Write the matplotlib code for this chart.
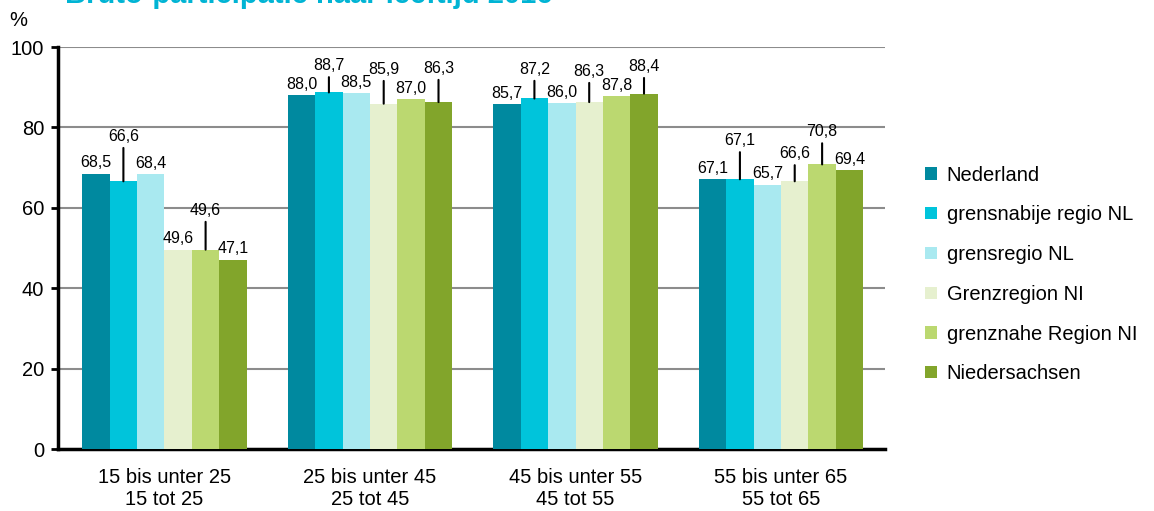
import matplotlib
matplotlib.use("Agg")
import matplotlib.pyplot as plt
import numpy as np

plt.rcParams["font.family"] = ["Liberation Sans", "DejaVu Sans"]

categories = ["15 bis unter 25\n15 tot 25", "25 bis unter 45\n25 tot 45",
              "45 bis unter 55\n45 tot 55", "55 bis unter 65\n55 tot 65"]
series = ["Nederland", "grensnabije regio NL", "grensregio NL",
          "Grenzregion NI", "grenznahe Region NI", "Niedersachsen"]
nederland = [68.5, 88.0, 85.7, 67.1]
grensnabije = [66.6, 88.7, 87.2, 67.1]
grensregio = [68.4, 88.5, 86.0, 65.7]
grenzregion_ni = [49.6, 85.9, 86.3, 66.6]
grenznahe_ni = [49.6, 87.0, 87.8, 70.8]
niedersachsen = [47.1, 86.3, 88.4, 69.4]
values = [nederland, grensnabije, grensregio, grenzregion_ni, grenznahe_ni, niedersachsen]

colors = ["#00899F", "#00C4DB", "#A9E9F0", "#E6F0CF", "#BBD870", "#82A52B"]
# label offset (points) above the bar top; None = default offset without leader line
offsets = [
    [None, None, None, None],
    [27, 14, 15.7, 22.5],
    [None, None, None, None],
    [None, 19.4, 16.8, 14.6],
    [23, None, None, 18.2],
    [None, 19, 14.3, None],
]

fig = plt.figure(figsize=(11.54, 5.11), dpi=100)
ax = fig.add_axes([0.0503, 0.1213, 0.7166, 0.7867])

n = len(series)
w = 0.8 / n
x = np.arange(len(categories))
for i, (name, vals, c) in enumerate(zip(series, values, colors)):
    pos = x - 0.4 + w * (i + 0.5)
    ax.bar(pos, vals, width=w, color=c, label=name, zorder=3, linewidth=0)
    for j, (px, v) in enumerate(zip(pos, vals)):
        off = offsets[i][j]
        txt = f"{v:.1f}".replace(".", ",")
        if off is not None:
            ax.annotate(txt, xy=(px, v), xytext=(0, off), textcoords="offset points",
                        ha="center", va="bottom", fontsize=11.5, color="#000000",
                        arrowprops=dict(arrowstyle="-", color="black", lw=1.5,
                                        shrinkA=1, shrinkB=0), zorder=5)
        else:
            ax.annotate(txt, xy=(px, v), xytext=(0, 2.5), textcoords="offset points",
                        ha="center", va="bottom", fontsize=11.5, color="#000000", zorder=5)

ax.set_xlim(-0.518, len(categories) - 0.494)
ax.set_ylim(0, 100)
ax.set_yticks([0, 20, 40, 60, 80, 100])
ax.yaxis.grid(True, color="#8C8C8C", lw=1.5, zorder=0)
ax.set_axisbelow(True)
ax.set_xticks(x)
ax.set_xticklabels(categories, fontsize=14.5, linespacing=1.15)
ax.tick_params(axis="x", length=0, pad=14)
ax.tick_params(axis="y", labelsize=14.5, length=5, width=2, pad=5)
for s in ["top", "right"]:
    ax.spines[s].set_visible(False)
for s in ["left", "bottom"]:
    ax.spines[s].set_linewidth(2.5)
    ax.spines[s].set_color("black")

fig.text(18 / 1154, 1 - 20 / 511, "%", fontsize=14.5, ha="center", va="center")
fig.text(65 / 1154, 1 - 3 / 511, "Bruto-participatie naar leeftijd 2016", fontsize=21,
         fontweight="bold", color="#00B4D4", ha="left", va="baseline")

leg = ax.legend(loc="center left", bbox_to_anchor=(1.027, 0.434), frameon=False,
                fontsize=14.5, handlelength=0.55, handleheight=0.55, handletextpad=0.5,
                labelspacing=1.03)

fig.savefig("out.png", dpi=100)
